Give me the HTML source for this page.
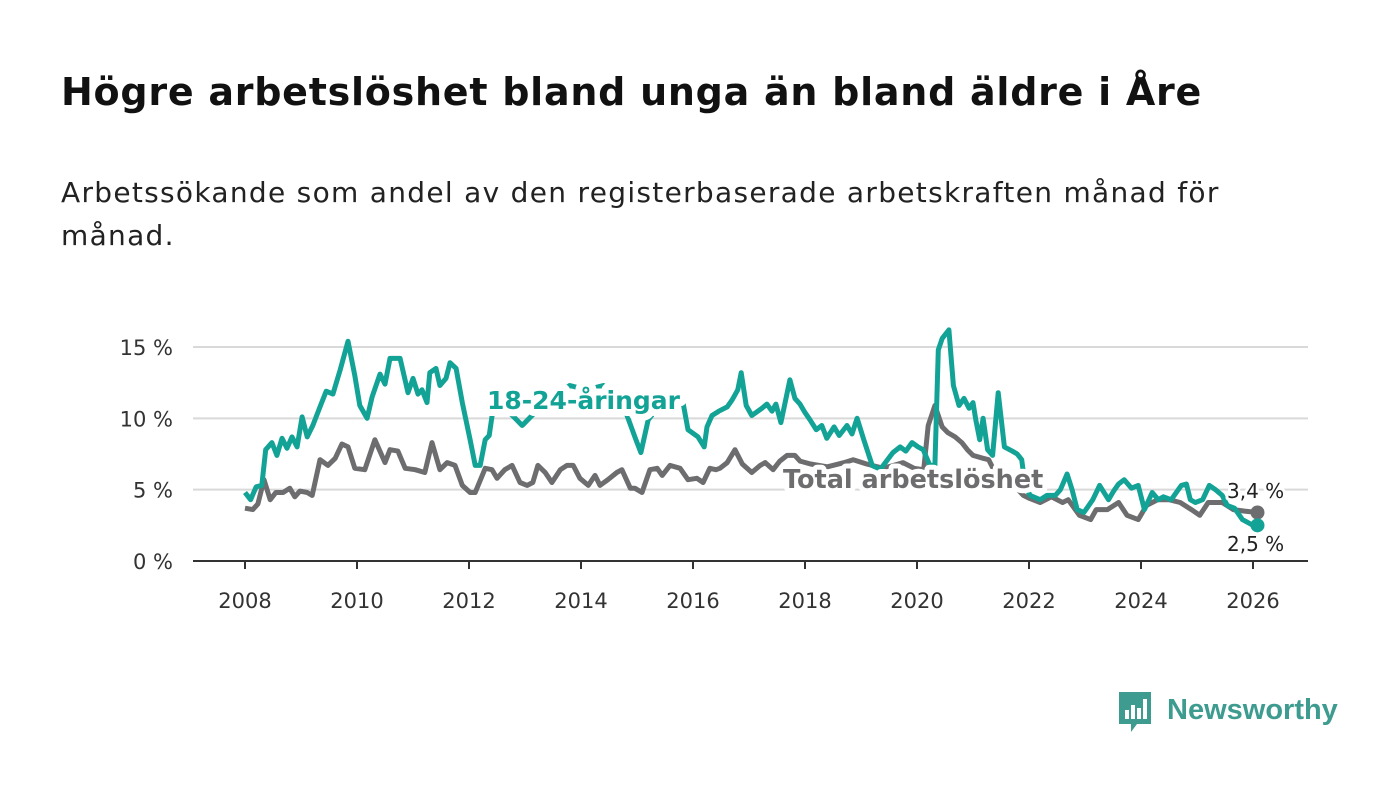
<!DOCTYPE html>
<html><head><meta charset="utf-8">
<style>
body{margin:0;background:#fff;font-family:"DejaVu Sans","Liberation Sans",sans-serif;}
#wrap{position:relative;width:1400px;height:794px;overflow:hidden;}
h1{position:absolute;left:61px;top:70px;margin:0;font-size:38px;font-weight:bold;color:#111;letter-spacing:0.75px;white-space:nowrap}
.sub{position:absolute;left:61px;top:171px;margin:0;font-size:28px;line-height:43px;color:#222;width:1320px;letter-spacing:1.3px}
svg{position:absolute;left:0;top:0}
</style></head><body>
<div id="wrap">
<h1>Högre arbetslöshet bland unga än bland äldre i Åre</h1>
<p class="sub">Arbetssökande som andel av den registerbaserade arbetskraften månad för<br>månad.</p>
<svg id="chart" width="1400" height="794"></svg>
</div>
<script>
const yTicks=[0,5,10,15];
const yTickLabels=["0 %","5 %","10 %","15 %"];
const xTicks=[2008,2010,2012,2014,2016,2018,2020,2022,2024,2026];
const youthDates=[2008.0,2008.1,2008.2,2008.3,2008.37,2008.48,2008.57,2008.66,2008.75,2008.84,2008.93,2009.02,2009.11,2009.21,2009.34,2009.45,2009.57,2009.7,2009.84,2009.96,2010.05,2010.18,2010.27,2010.41,2010.5,2010.59,2010.77,2010.91,2011.0,2011.09,2011.16,2011.25,2011.3,2011.41,2011.48,2011.59,2011.66,2011.77,2011.88,2012.02,2012.11,2012.2,2012.29,2012.36,2012.45,2012.7,2012.95,2013.2,2013.5,2013.8,2014.1,2014.4,2014.7,2014.98,2015.07,2015.2,2015.34,2015.5,2015.79,2015.91,2016.09,2016.2,2016.25,2016.34,2016.46,2016.61,2016.7,2016.8,2016.86,2016.95,2017.05,2017.23,2017.32,2017.41,2017.48,2017.57,2017.73,2017.82,2017.91,2018.0,2018.09,2018.2,2018.3,2018.39,2018.52,2018.61,2018.75,2018.84,2018.93,2019.05,2019.2,2019.34,2019.57,2019.7,2019.8,2019.91,2020.02,2020.11,2020.23,2020.32,2020.38,2020.45,2020.57,2020.65,2020.75,2020.84,2020.93,2021.0,2021.05,2021.12,2021.18,2021.26,2021.35,2021.45,2021.56,2021.7,2021.79,2021.87,2021.93,2022.02,2022.2,2022.32,2022.47,2022.56,2022.68,2022.77,2022.86,2022.98,2023.14,2023.26,2023.42,2023.51,2023.6,2023.7,2023.83,2023.95,2024.06,2024.2,2024.31,2024.4,2024.54,2024.72,2024.81,2024.88,2024.97,2025.1,2025.22,2025.33,2025.45,2025.54,2025.67,2025.81,2026.0,2026.08];
const youthValues=[4.8,4.3,5.2,5.3,7.8,8.3,7.4,8.6,7.9,8.7,8.0,10.1,8.7,9.5,10.8,11.9,11.7,13.4,15.4,13.0,10.9,10.0,11.5,13.1,12.4,14.2,14.2,11.8,12.8,11.7,12.0,11.1,13.2,13.5,12.3,12.8,13.9,13.5,11.1,8.5,6.7,6.7,8.5,8.8,11.2,10.5,9.5,10.5,11.5,12.3,12.0,12.3,11.5,8.5,7.6,9.9,10.6,11.5,11.8,9.2,8.7,8.0,9.4,10.2,10.5,10.8,11.3,12.0,13.2,10.9,10.2,10.7,11.0,10.5,11.0,9.7,12.7,11.4,11.0,10.4,9.9,9.2,9.5,8.6,9.4,8.8,9.5,8.9,10.0,8.5,6.7,6.4,7.6,8.0,7.7,8.3,8.0,7.8,6.7,6.7,14.8,15.6,16.2,12.3,10.9,11.4,10.7,11.1,9.9,8.5,10.0,7.8,7.4,11.8,8.0,7.7,7.5,7.1,5.3,4.6,4.3,4.6,4.6,5.0,6.1,5.0,3.6,3.4,4.3,5.3,4.3,4.9,5.4,5.7,5.1,5.3,3.6,4.8,4.3,4.5,4.3,5.3,5.4,4.3,4.1,4.3,5.3,5.0,4.6,3.9,3.7,2.9,2.5];
const totalDates=[2008.0,2008.14,2008.23,2008.34,2008.45,2008.55,2008.68,2008.8,2008.89,2008.98,2009.11,2009.2,2009.34,2009.48,2009.61,2009.73,2009.84,2009.96,2010.14,2010.32,2010.5,2010.59,2010.73,2010.86,2011.04,2011.21,2011.34,2011.48,2011.61,2011.75,2011.88,2012.02,2012.11,2012.29,2012.41,2012.5,2012.64,2012.77,2012.91,2013.04,2013.14,2013.23,2013.36,2013.48,2013.63,2013.75,2013.86,2013.98,2014.13,2014.25,2014.34,2014.48,2014.64,2014.73,2014.88,2014.96,2015.09,2015.23,2015.36,2015.45,2015.59,2015.77,2015.91,2016.07,2016.18,2016.3,2016.41,2016.48,2016.61,2016.75,2016.88,2017.05,2017.2,2017.29,2017.43,2017.55,2017.68,2017.82,2017.91,2018.1,2018.4,2018.7,2018.86,2019.1,2019.4,2019.75,2019.95,2020.12,2020.2,2020.32,2020.45,2020.55,2020.68,2020.8,2020.9,2021.0,2021.18,2021.28,2021.37,2021.6,2021.78,2021.9,2022.0,2022.2,2022.4,2022.6,2022.7,2022.9,2023.1,2023.2,2023.4,2023.6,2023.75,2023.95,2024.1,2024.3,2024.5,2024.7,2024.9,2025.05,2025.2,2025.45,2025.65,2025.85,2026.08];
const totalValues=[3.7,3.6,4.0,5.7,4.3,4.8,4.8,5.1,4.5,4.9,4.8,4.6,7.1,6.7,7.2,8.2,8.0,6.5,6.4,8.5,6.9,7.8,7.7,6.5,6.4,6.2,8.3,6.4,6.9,6.7,5.3,4.8,4.8,6.5,6.4,5.8,6.4,6.7,5.5,5.3,5.5,6.7,6.2,5.5,6.4,6.7,6.7,5.8,5.3,6.0,5.3,5.7,6.2,6.4,5.1,5.1,4.8,6.4,6.5,6.0,6.7,6.5,5.7,5.8,5.5,6.5,6.4,6.5,6.9,7.8,6.8,6.2,6.7,6.9,6.4,7.0,7.4,7.4,7.0,6.8,6.6,6.9,7.1,6.8,6.5,6.9,6.5,6.4,9.5,10.9,9.4,9.0,8.7,8.3,7.8,7.4,7.2,7.1,6.4,6.0,5.1,4.6,4.4,4.1,4.5,4.1,4.3,3.2,2.9,3.6,3.6,4.1,3.2,2.9,3.9,4.3,4.3,4.1,3.6,3.2,4.1,4.1,3.6,3.5,3.4];

const NS="http://www.w3.org/2000/svg";
const svg=document.getElementById('chart');
const x0=245,x1=1253,yBase=561,yTop=347;
function xs(t){return x0+(t-2008)/(2026-2008)*(x1-x0);}
function ys(v){return yBase-v/15*(yBase-yTop);}
function mk(tag,attrs){const e=document.createElementNS(NS,tag);for(const k in attrs)e.setAttribute(k,attrs[k]);svg.appendChild(e);return e;}

yTicks.forEach((v,i)=>{
  if(v>0){const g=mk('line',{x1:193,x2:1308,y1:ys(v),y2:ys(v),stroke:'#d9d9d9','stroke-width':2});
  
  }
  const t=mk('text',{x:173,y:ys(v)+8,'text-anchor':'end','font-size':21,fill:'#333'});
  t.textContent=yTickLabels[i];
  
  
});
const ax=mk('line',{x1:193,x2:1308,y1:yBase,y2:yBase,stroke:'#333','stroke-width':2});


xTicks.forEach(v=>{
  const tk=mk('line',{x1:xs(v),x2:xs(v),y1:yBase,y2:yBase+8,stroke:'#333','stroke-width':2});
  
  
  const t=mk('text',{x:xs(v),y:608,'text-anchor':'middle','font-size':21,fill:'#333'});
  t.textContent=String(v);
  
  
});
function path(d,v){return d.map((t,i)=>(i?'L':'M')+xs(t).toFixed(1)+','+ys(v[i]).toFixed(1)).join(' ');}
const pt=mk('path',{d:path(totalDates,totalValues),fill:'none',stroke:'#6d6d6f','stroke-width':5,'stroke-linejoin':'round'});


const py=mk('path',{d:path(youthDates,youthValues),fill:'none',stroke:'#13a396','stroke-width':5,'stroke-linejoin':'round'});


const dt=mk('circle',{cx:xs(totalDates[totalDates.length-1]),cy:ys(totalValues[totalValues.length-1]),r:7,fill:'#6d6d6f'});


const dy=mk('circle',{cx:xs(youthDates[youthDates.length-1]),cy:ys(youthValues[youthValues.length-1]),r:7,fill:'#13a396'});


function lbl(txt,x,y,fill,name,size,bold,sw){
  const t=mk('text',{x:x,y:y,'font-size':size,'font-weight':bold?'bold':'normal',fill:fill,stroke:'#fff','stroke-width':sw,'paint-order':'stroke','stroke-linejoin':'round'});
  t.textContent=txt;
  
  
}
lbl('18-24-åringar',487,409,'#13a396','youth-series-label',25,true,14);
lbl('Total arbetslöshet',783,488,'#6d6d6f','total-series-label',25.5,true,10);
lbl('3,4 %',1227,498,'#222','total-end-value',20,false,6);
lbl('2,5 %',1227,551,'#222','youth-end-value',20,false,6);
</script>
<svg width="230" height="60" style="left:1115px;top:688px">
<path d="M4 4 h32 v32 h-14 l-6 8 v-8 h-12 z" fill="#3d9b8f"/>
<rect x="10" y="22" width="4" height="9" fill="#fff"/><rect x="16" y="17" width="4" height="14" fill="#fff"/><rect x="22" y="20" width="4" height="11" fill="#fff"/><rect x="28" y="11" width="4" height="20" fill="#fff"/>
<text x="52" y="31" font-family="Liberation Sans, sans-serif" font-size="29" font-weight="bold" fill="#3d9b8f">Newsworthy</text>
</svg>
</body></html>
